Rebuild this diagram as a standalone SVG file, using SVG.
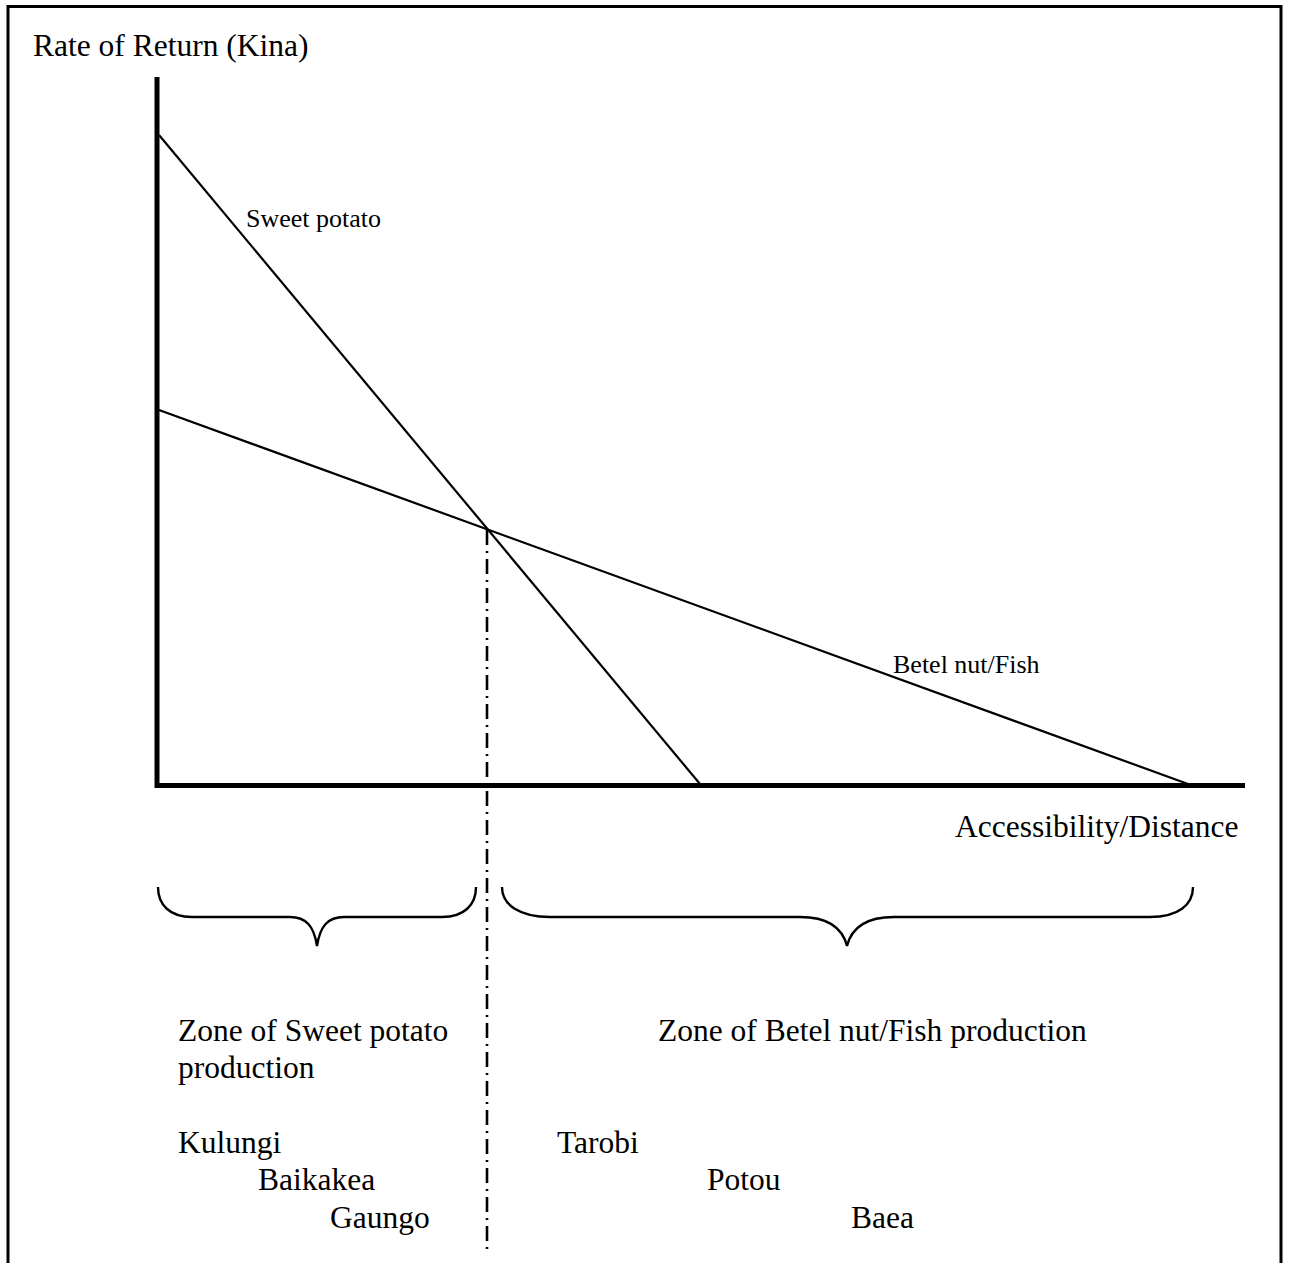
<svg xmlns="http://www.w3.org/2000/svg" width="1289" height="1263" viewBox="0 0 1289 1263">
  <style>
    .lbl { font-family: "Liberation Serif", "Times New Roman", serif; fill: #000; }
    .big { font-size: 31.5px; }
    .small { font-size: 26px; }
    .axis { stroke: #000; stroke-width: 5; fill: none; }
    .curve { stroke: #000; stroke-width: 2.2; fill: none; }
    .brace { stroke: #000; stroke-width: 2.4; fill: none; }
    .divider { stroke: #000; stroke-width: 2.6; fill: none; stroke-dasharray: 15 6 2 6; }
  </style>

  <rect width="1289" height="1263" fill="#fff"/>

  <!-- outer frame, open at the bottom -->
  <path id="frame" d="M8,1263 V6.5 H1281 V1263" stroke="#000" stroke-width="3" fill="none"/>

  <!-- axes -->
  <g id="axes">
    <line class="axis" x1="157" y1="77" x2="157" y2="788"/>
    <line class="axis" x1="155" y1="785.5" x2="1245" y2="785.5"/>
    <text class="lbl big" x="33" y="56">Rate of Return (Kina)</text>
    <text class="lbl big" x="955" y="837">Accessibility/Distance</text>
  </g>

  <!-- rent curves and the zone boundary -->
  <g id="connectors">
    <line id="sweet-potato-line" class="curve" x1="159" y1="135" x2="700" y2="784"/>
    <line id="betel-line" class="curve" x1="159" y1="410" x2="1188" y2="784"/>
    <line id="zone-divider" class="divider" x1="487" y1="530" x2="487" y2="1252"/>
  </g>

  <g id="sweet-potato-label">
    <text class="lbl small" x="246" y="227">Sweet potato</text>
  </g>
  <g id="betel-label">
    <text class="lbl small" x="893" y="673">Betel nut/Fish</text>
  </g>

  <!-- zone braces -->
  <g id="brace-sweet-potato">
    <path class="brace" d="M158,887 C158,905 170,917 192,917 H290 C306,917 314,926 317,946 C320,926 328,917 344,917 H442 C464,917 476,905 476,887"/>
  </g>
  <g id="brace-betel">
    <path class="brace" d="M502,887 C502,905 520,917 550,917 H800 C826,917 842,926 847,946 C852,926 868,917 894,917 H1150 C1178,917 1193,905 1193,887"/>
  </g>

  <!-- zone captions and villages -->
  <g id="zone-sweet-potato">
    <text class="lbl big" x="178" y="1041">Zone of Sweet potato</text>
    <text class="lbl big" x="178" y="1078">production</text>
    <text class="lbl big" x="178" y="1153">Kulungi</text>
    <text class="lbl big" x="258" y="1190">Baikakea</text>
    <text class="lbl big" x="330" y="1228">Gaungo</text>
  </g>
  <g id="zone-betel">
    <text class="lbl big" x="658" y="1041">Zone of Betel nut/Fish production</text>
    <text class="lbl big" x="557" y="1153">Tarobi</text>
    <text class="lbl big" x="707" y="1190">Potou</text>
    <text class="lbl big" x="851" y="1228">Baea</text>
  </g>
</svg>
